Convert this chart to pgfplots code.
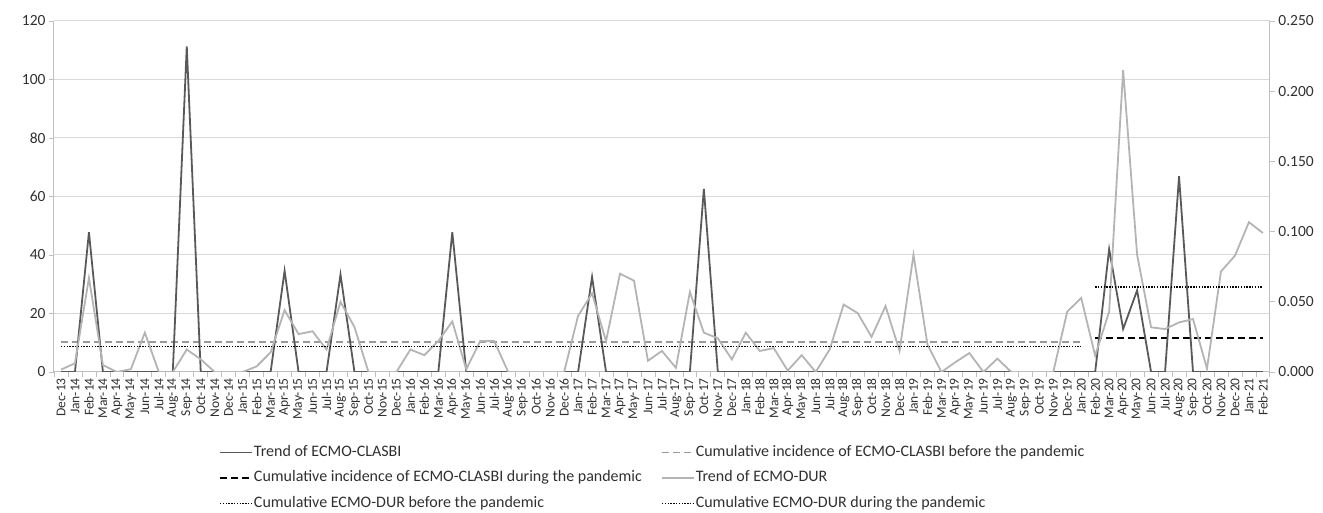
\documentclass[border=0pt]{standalone}
\usepackage{fontspec}
\setmainfont{Carlito}
\usepackage{pgfplots}
\usepackage{pgfplotstable}
\pgfplotsset{compat=1.18}
\definecolor{darkline}{HTML}{595959}
\definecolor{lightline}{HTML}{B4B4B4}
\definecolor{gridc}{HTML}{D9D9D9}
\definecolor{axc}{HTML}{BFBFBF}
\definecolor{txt}{HTML}{303030}
\definecolor{dashgrey}{HTML}{9A9A9A}

\pgfplotstableread{
i clasbi dur
0 0 0.0017
1 0 0.0062
2 47.8 0.067
3 0 0.005
4 0 0
5 0 0.002
6 0 0.028
7 0 0
8 0 0
9 111.3 0.016
10 0 0.009
11 0 0
12 nan nan
13 0 0
14 0 0.004
15 0 0.014
16 34.6 0.044
17 0 0.027
18 0 0.029
19 0 0.016
20 33.3 0.050
21 0 0.032
22 0 0
23 nan nan
24 0 0
25 0 0.016
26 0 0.012
27 0 0.022
28 47.8 0.036
29 0 0.002
30 0 0.022
31 0 0.022
32 0 0
33 nan nan
34 nan nan
35 nan nan
36 0 0
37 0 0.040
38 32.5 0.056
39 0 0.022
40 0 0.070
41 0 0.065
42 0 0.008
43 0 0.015
44 0 0.003
45 0 0.057
46 62.6 0.028
47 0 0.024
48 0 0.009
49 0 0.028
50 0 0.015
51 0 0.017
52 0 0.001
53 0 0.012
54 0 0
55 0 0.016
56 0 0.048
57 0 0.042
58 0 0.025
59 0 0.047
60 0 0.015
61 0 0.0835
62 0 0.0195
63 0 0
64 0 0.007
65 0 0.0135
66 0 0
67 0 0.0095
68 0 0
69 nan nan
70 nan nan
71 0 0
72 0 0.043
73 0 0.0527
74 0 0.0116
75 42.0 0.043
76 14.7 0.215
77 27.9 0.0835
78 0 0.0318
79 0 0.0306
80 66.9 0.0353
81 0 0.0377
82 0 0.0024
83 0 0.0716
84 0 0.0828
85 0 0.1067
86 0 0.099
}\datatable

\pgfplotsset{
  base/.style={
    scale only axis, width=1216pt, height=351pt,
    at={(54pt,141pt)}, anchor=south west,
    xmin=-0.5, xmax=86.5, unbounded coords=jump,
    /pgf/number format/assume math mode=true,
    axis line style={-, axc, line width=1pt},
    tick align=outside,
    major tick length=5pt, minor tick length=5pt,
    y tick label style={font=\fontsize{15.5}{17}\selectfont, text=txt},
  },
  trendA/.style={darkline, line width=1.8pt},
  trendB/.style={lightline, line width=1.8pt},
  cumAbefore/.style={dashgrey, line width=1.6pt, dash pattern=on 7pt off 4pt},
  cumAduring/.style={black, line width=1.6pt, dash pattern=on 7pt off 4pt},
  cumB/.style={black, line width=1.4pt, dash pattern=on 1.4pt off 1.4pt},
}

\begin{document}
\begin{tikzpicture}
\path[use as bounding box] (0,0) rectangle (1323pt,513pt);
\begin{axis}[base,
  ymin=0, ymax=120, ytick={0,20,40,60,80,100,120},
  ymajorgrids, grid style={gridc, line width=1pt},
  axis x line*=bottom, axis y line*=left,
  ytick style={axc, line width=0.8pt},
  xtick={0,...,86},
  xticklabels={Dec-13,Jan-14,Feb-14,Mar-14,Apr-14,May-14,Jun-14,Jul-14,Aug-14,Sep-14,Oct-14,Nov-14,Dec-14,Jan-15,Feb-15,Mar-15,Apr-15,May-15,Jun-15,Jul-15,Aug-15,Sep-15,Oct-15,Nov-15,Dec-15,Jan-16,Feb-16,Mar-16,Apr-16,May-16,Jun-16,Jul-16,Aug-16,Sep-16,Oct-16,Nov-16,Dec-16,Jan-17,Feb-17,Mar-17,Apr-17,May-17,Jun-17,Jul-17,Aug-17,Sep-17,Oct-17,Nov-17,Dec-17,Jan-18,Feb-18,Mar-18,Apr-18,May-18,Jun-18,Jul-18,Aug-18,Sep-18,Oct-18,Nov-18,Dec-18,Jan-19,Feb-19,Mar-19,Apr-19,May-19,Jun-19,Jul-19,Aug-19,Sep-19,Oct-19,Nov-19,Dec-19,Jan-20,Feb-20,Mar-20,Apr-20,May-20,Jun-20,Jul-20,Aug-20,Sep-20,Oct-20,Nov-20,Dec-20,Jan-21,Feb-21},
  x tick label style={rotate=90, anchor=east, font=\fontsize{13.5}{14}\selectfont, text=txt, inner xsep=1pt},
  major x tick style={draw=none},
  minor xtick={-0.5,0.5,...,86.5},
  minor x tick style={axc, line width=0.8pt},
]
\addplot[cumAbefore] coordinates {(0,10.25) (73,10.25)};
\addplot[cumAduring] coordinates {(74,11.7) (86,11.7)};
\addplot[trendA] table[x=i, y=clasbi] {\datatable};
\end{axis}
\begin{axis}[base,
  ymin=0, ymax=0.25, ytick={0,0.05,0.1,0.15,0.2,0.25},
  axis x line=none, axis y line*=right,
  ytick style={axc, line width=0.8pt},
  yticklabel style={/pgf/number format/.cd, fixed, fixed zerofill, precision=3},
  legend columns=2,
  legend cell align=left,
  legend style={at={(axis description cs:0.1357,-0.202)}, anchor=north west,
    draw=none, fill=none, font=\fontsize{16}{19}\selectfont, text=txt,
    /tikz/every even column/.append style={column sep=18pt},
    row sep=6.5pt, inner sep=0pt,
    nodes={inner xsep=1pt, inner ysep=2pt, text height=11pt, text depth=4pt}},
  legend image code/.code={\path[draw=none] (0pt,0pt) -- (32pt,0pt); \draw[#1] (0pt,0pt) -- (32pt,0pt);},
]
\addlegendimage{trendA}\addlegendentry{Trend of ECMO-CLASBI}
\addlegendimage{cumAbefore}\addlegendentry{Cumulative incidence of ECMO-CLASBI before the pandemic}
\addlegendimage{cumAduring}\addlegendentry{Cumulative incidence of ECMO-CLASBI during the pandemic}
\addplot[trendB] table[x=i, y=dur] {\datatable};
\addlegendentry{Trend of ECMO-DUR}
\addplot[cumB] coordinates {(0,0.0183) (73,0.0183)};
\addlegendentry{Cumulative ECMO-DUR before the pandemic}
\addplot[cumB] coordinates {(74,0.0605) (86,0.0605)};
\addlegendentry{Cumulative ECMO-DUR during the pandemic}
\end{axis}
\end{tikzpicture}
\end{document}
